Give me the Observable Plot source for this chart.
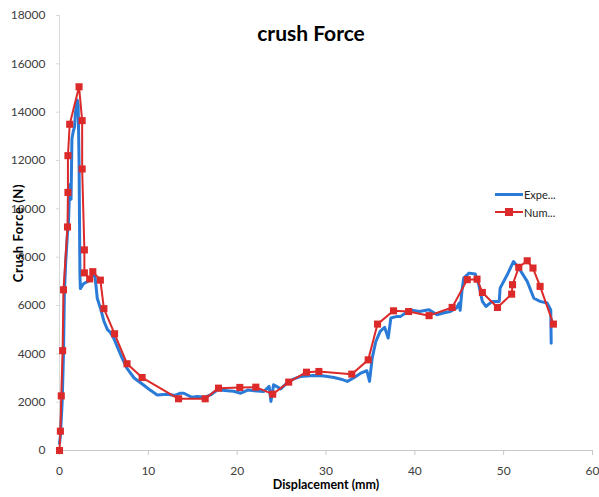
<!DOCTYPE html>
<html>
<head>
<meta charset="utf-8">
<script src="https://cdn.jsdelivr.net/npm/d3@7"></script>
<script src="https://cdn.jsdelivr.net/npm/@observablehq/plot@0.6"></script>
<style>
  html, body { margin: 0; padding: 0; background: #fff; }
  #wrap { position: relative; width: 599px; height: 497px; font-family: Lato, "Open Sans", sans-serif; }
  #title { position: absolute; left: 0; width: 622px; top: 20px; text-align: center; font-weight: bold; font-size: 21px; color: #000; }
  #legend { position: absolute; left: 495px; top: 185px; font-size: 11px; color: #222; }
  .li { display: flex; align-items: center; height: 18px; }
  .sw { position: relative; width: 28px; height: 10px; margin-right: 1px; }
  .sw .ln { position: absolute; left: 0; right: 0; top: 4px; height: 3px; }
  .sw .sq { position: absolute; left: 10px; top: 1px; width: 8px; height: 8px; background: #dc2a2a; }
  svg [aria-label="x-axis label"] text { font-weight: bold; fill: #000; font-size: 12.5px; }
  svg [aria-label="y-axis label"] text { font-weight: bold; fill: #000; font-size: 13px; letter-spacing: 0.6px; }
</style>
</head>
<body>
<div id="wrap">
  <div id="chart"></div>
  <div id="title">crush Force</div>
  <div id="legend">
    <div class="li"><div class="sw"><div class="ln" style="background:#2a7bd8"></div></div>Expe...</div>
    <div class="li"><div class="sw"><div class="ln" style="background:#dc2a2a;height:2px;top:4px"></div><div class="sq"></div></div>Num...</div>
  </div>
</div>
<script>
const xTicks = [0, 10, 20, 30, 40, 50, 60];
const yTicks = [0, 2000, 4000, 6000, 8000, 10000, 12000, 14000, 16000, 18000];

const expX = [0,0.1,0.3,0.45,0.55,0.7,0.9,1.0,1.15,1.3,1.4,1.55,1.7,1.8,2.0,2.1,2.2,2.3,2.35,2.7,3.2,3.7,4.0,4.25,4.6,5.0,5.4,5.7,6.1,6.5,6.9,7.6,8.4,9.5,10.2,11.0,12.1,13.0,13.6,14.0,14.9,15.5,16.3,17.0,17.8,18.9,19.6,20.4,21.2,21.9,23.0,23.6,23.8,24.1,24.9,25.6,26.3,27.1,28.6,29.8,30.9,31.7,32.4,33.1,33.9,34.6,34.9,35.2,35.6,36.1,36.6,37.0,37.3,38.0,38.4,39.5,40.5,41.6,42.5,43.3,44.0,44.7,45.0,45.1,45.3,45.5,46.1,46.8,47.2,47.6,48.0,48.7,49.5,49.6,50.4,51.1,51.7,52.65,53.4,54.1,54.9,55.3,55.35];
const expY = [300,600,2000,4000,6500,7800,9000,9300,11000,10400,12900,13200,13400,14000,14500,14300,12000,7300,6700,6900,7000,7250,7200,6300,5900,5350,5000,4900,4650,4300,3950,3400,3000,2700,2500,2300,2330,2280,2370,2370,2200,2240,2200,2300,2510,2470,2450,2370,2500,2470,2440,2650,2030,2720,2550,2790,2950,3060,3100,3080,3020,2950,2860,3000,3200,3300,2860,3820,4500,4930,5100,4650,5480,5550,5550,5820,5750,5820,5620,5700,5750,5900,6100,5800,6600,7130,7340,7300,6860,6170,5960,6170,6170,6720,7270,7820,7550,7000,6300,6170,6100,5820,4440];

const numX = [0,0.1,0.2,0.35,0.45,0.9,0.95,0.95,1.15,2.2,2.55,2.55,2.8,2.8,3.4,3.75,4.6,5.0,6.2,7.6,9.3,13.4,16.4,17.9,20.3,22.1,24.0,25.8,27.8,29.2,32.9,34.75,35.8,37.6,39.3,41.6,44.2,45.9,47.0,47.6,49.3,50.9,51.0,51.7,52.65,53.3,54.1,55.6];
const numY = [0,800,2260,4130,6650,9250,10680,12200,13500,15050,13650,11650,8300,7350,7100,7400,7050,5870,4830,3590,3020,2140,2140,2580,2610,2620,2330,2830,3240,3270,3160,3750,5230,5780,5750,5580,5920,7070,7090,6540,5920,6470,6860,7580,7850,7550,6790,5230];

const exp = expX.map((x, i) => ({x, y: expY[i]}));
const num = numX.map((x, i) => ({x, y: numY[i]}));

const chart = Plot.plot({
  width: 599,
  height: 497,
  marginLeft: 59,
  marginRight: 7,
  marginTop: 15,
  marginBottom: 47,
  style: { fontFamily: "Lato, 'Open Sans', sans-serif", fontSize: "12px", background: "white" },
  x: { domain: [0, 60] },
  y: { domain: [0, 18000] },
  marks: [
    Plot.axisX({ ticks: xTicks, tickFormat: d => String(d), tickSize: 5, tickPadding: 11, stroke: "#c8c8c8", fill: "#404040",
      label: "Displacement (mm)", labelAnchor: "center", labelArrow: "none", labelOffset: 38 }),
    Plot.axisY({ ticks: yTicks, tickFormat: d => String(d), tickSize: 3, tickPadding: 11, stroke: "#d9d9d9", fill: "#404040",
      label: "Crush Force (N)", labelAnchor: "center", labelArrow: "none", labelOffset: 46 }),
    Plot.ruleX([0], { stroke: "#d9d9d9" }),
    Plot.ruleY([0], { stroke: "#c8c8c8" }),
    Plot.line(exp, { x: "x", y: "y", stroke: "#2a7bd8", strokeWidth: 3, strokeLinejoin: "round" }),
    Plot.line(num, { x: "x", y: "y", stroke: "#dc2a2a", strokeWidth: 2 }),
    Plot.dot(num, { x: "x", y: "y", symbol: "square", r: 4, fill: "#dc2a2a", stroke: "none" })
  ]
});
document.getElementById("chart").appendChild(chart);
</script>
</body>
</html>
